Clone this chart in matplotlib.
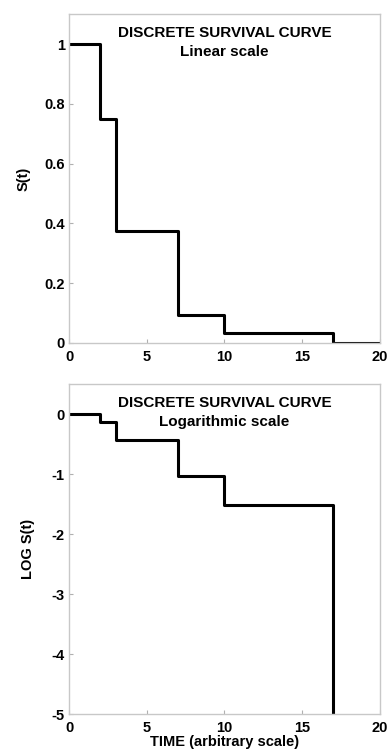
import matplotlib.pyplot as plt
import numpy as np

plt.rcParams['font.family'] = ['Liberation Sans', 'DejaVu Sans']
plt.rcParams['font.weight'] = 'bold'
plt.rcParams['axes.unicode_minus'] = False

# step times and survival values
times = [0, 2, 3, 7, 10, 17, 20]
survival = [1.0, 0.75, 0.375, 0.094, 0.031, 0.0, 0.0]
# log10 of survival; the last step falls off the bottom of the axis
log_survival = [0.0, -0.125, -0.43, -1.03, -1.51, -6.0, -6.0]

x_ticks = [0, 5, 10, 15, 20]
lin_ticks = [0, 0.2, 0.4, 0.6, 0.8, 1]
lin_labels = ['0', '0.2', '0.4', '0.6', '0.8', '1']
log_ticks = [-5, -4, -3, -2, -1, 0]

fig = plt.figure(figsize=(3.9, 7.5), dpi=100)
ax1 = fig.add_axes([0.177, 0.543, 0.797, 0.438])
ax2 = fig.add_axes([0.177, 0.048, 0.797, 0.440])


def style_axes(ax):
    for s in ax.spines.values():
        s.set_color('#c8c8c8')
        s.set_linewidth(1.0)
    ax.tick_params(direction='in', length=3, color='#b0b0b0', labelsize=10.5,
                   top=False, right=False)
    ax.tick_params(axis='x', pad=5)
    ax.tick_params(axis='y', pad=3)
    for lab in ax.get_xticklabels() + ax.get_yticklabels():
        lab.set_fontweight('bold')


ax1.step(times, survival, where='post', color='black', lw=2.2)
ax1.set_xlim(0, 20)
ax1.set_ylim(0, 1.1)
ax1.set_xticks(x_ticks)
ax1.set_yticks(lin_ticks)
ax1.set_yticklabels(lin_labels)
ax1.set_ylabel('S(t)', fontsize=10.5, fontweight='bold', labelpad=10)
ax1.text(0.5, 0.942, 'DISCRETE SURVIVAL CURVE', transform=ax1.transAxes,
         ha='center', va='center', fontsize=11, fontweight='bold')
ax1.text(0.5, 0.884, 'Linear scale', transform=ax1.transAxes,
         ha='center', va='center', fontsize=11, fontweight='bold')
style_axes(ax1)

ax2.step(times, log_survival, where='post', color='black', lw=2.2)
ax2.set_xlim(0, 20)
ax2.set_ylim(-5, 0.5)
ax2.set_xticks(x_ticks)
ax2.set_yticks(log_ticks)
ax2.set_ylabel('LOG S(t)', fontsize=10.5, fontweight='bold', labelpad=12)
ax2.set_xlabel('TIME (arbitrary scale)', fontsize=10.5, fontweight='bold', labelpad=0)
ax2.text(0.5, 0.942, 'DISCRETE SURVIVAL CURVE', transform=ax2.transAxes,
         ha='center', va='center', fontsize=11, fontweight='bold')
ax2.text(0.5, 0.885, 'Logarithmic scale', transform=ax2.transAxes,
         ha='center', va='center', fontsize=11, fontweight='bold')
style_axes(ax2)

fig.savefig('out.png', dpi=100)
